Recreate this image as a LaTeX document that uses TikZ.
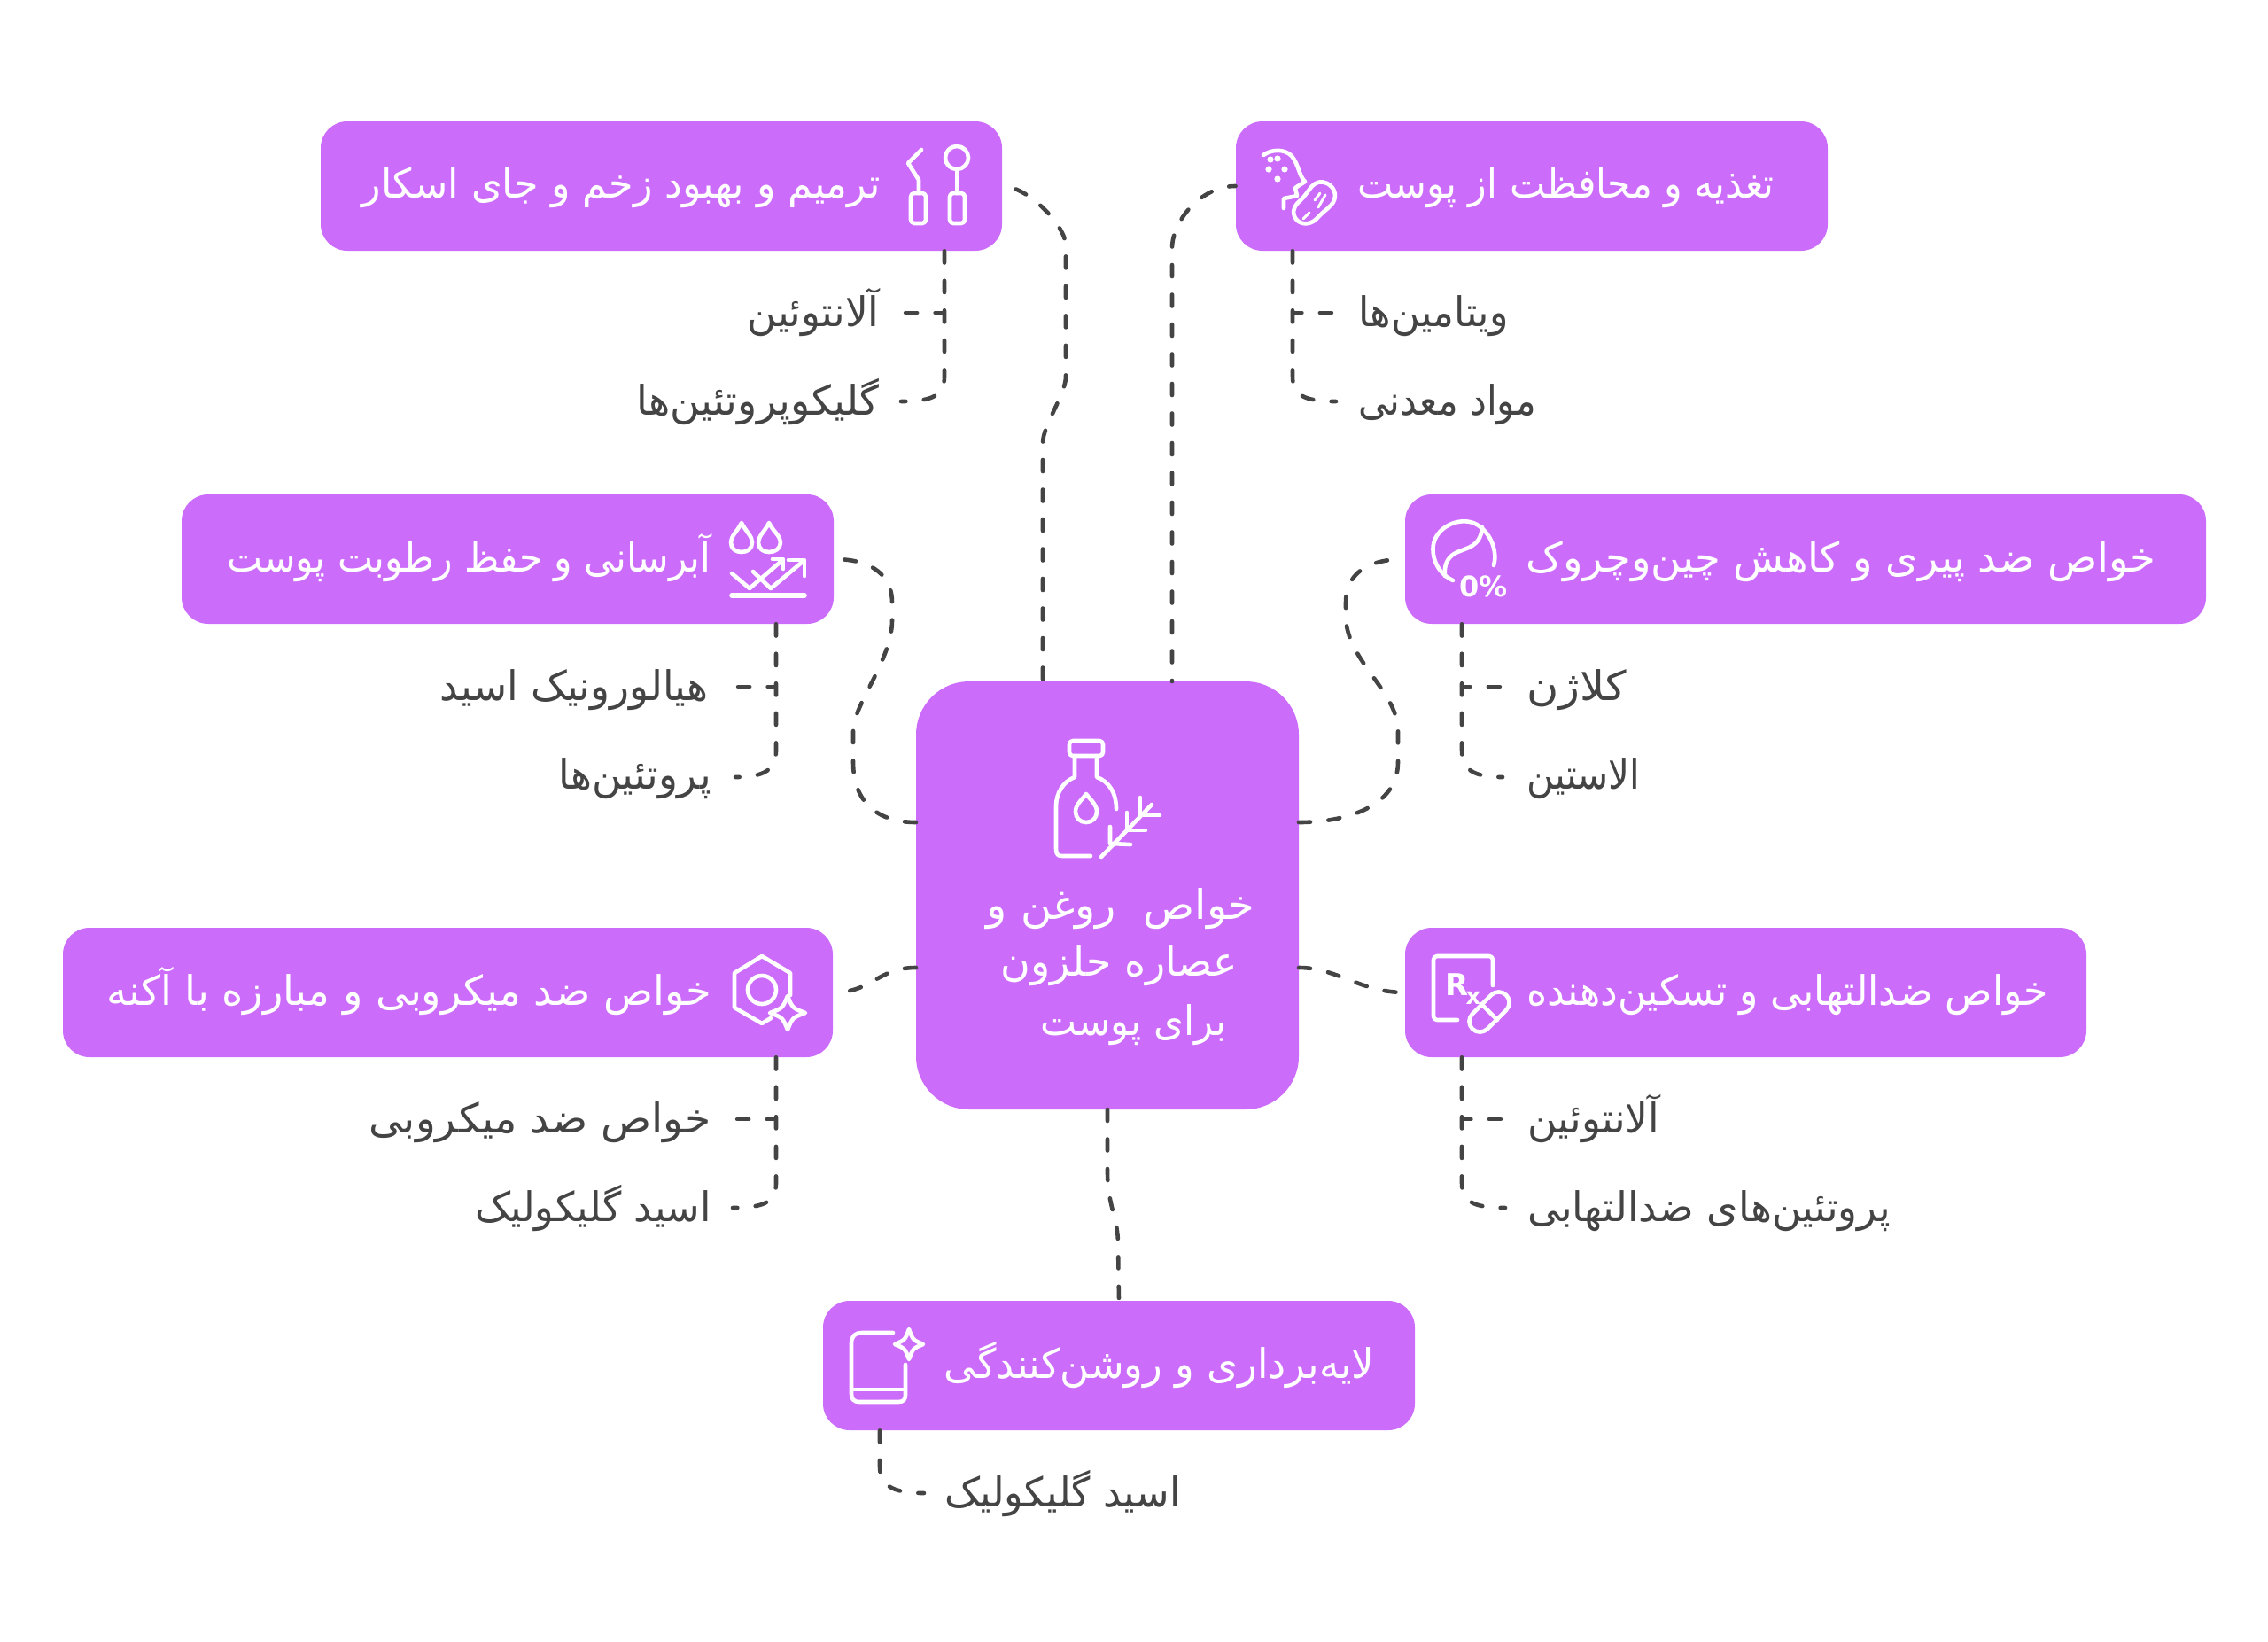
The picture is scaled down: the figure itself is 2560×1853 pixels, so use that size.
\documentclass[tikz,border=0pt]{standalone}
\usepackage{graphicx}
\usepackage{fontspec}
\setmainfont{DejaVu Sans}
\newfontfamily\arabicfont[Script=Arabic]{DejaVu Sans}
\newfontfamily\iconfont{DejaVu Sans}
\TeXXeTstate=1
\definecolor{boxpurple}{HTML}{CC6CFB}
\definecolor{inkgrey}{HTML}{444444}
\newcommand{\fa}[2]{\resizebox{#1pt}{\height}{\arabicfont\fontsize{23}{27}\selectfont #2}}
\tikzset{
  mainbox/.style={draw=none,fill=boxpurple,rounded corners=15pt,inner sep=0pt},
  centrebox/.style={draw=none,fill=boxpurple,rounded corners=30pt,inner sep=0pt},
  headtext/.style={inner sep=0pt,text=white},
  subtext/.style={inner sep=0pt,text=inkgrey},
  conn/.style={draw=inkgrey,line width=2.3pt,line cap=round,dash pattern=on 6.5pt off 10.25pt},
  ico/.style={draw=white,line width=2.3pt,line cap=round,line join=round},
  icofill/.style={fill=white,draw=none}
}
\newcommand{\fourstar}[4]{%
  \draw[ico] (#1,#2-#4) .. controls (#1+#3*0.28,#2-#4*0.28) .. (#1+#3,#2) .. controls (#1+#3*0.28,#2+#4*0.28) .. (#1,#2+#4) .. controls (#1-#3*0.28,#2+#4*0.28) .. (#1-#3,#2) .. controls (#1-#3*0.28,#2-#4*0.28) .. cycle;}
\begin{document}
\begin{tikzpicture}[x=0.5pt,y=-0.5pt]
\useasboundingbox (0,0) rectangle (2560,1853);
\fill[white] (0,0) rectangle (2560,1853);

\node[centrebox,minimum width=216pt,minimum height=241.5pt] (c) at (1250,1010.5) {};
\node[mainbox,minimum width=384.5pt,minimum height=73pt] (b1) at (746.5,210) {};
\node[mainbox,minimum width=334pt,minimum height=73pt] (b2) at (1729,210) {};
\node[mainbox,minimum width=368pt,minimum height=73pt] (b3) at (573,631) {};
\node[mainbox,minimum width=452pt,minimum height=73pt] (b4) at (2038,631) {};
\node[mainbox,minimum width=434.5pt,minimum height=73pt] (b5) at (505.5,1120) {};
\node[mainbox,minimum width=384.5pt,minimum height=73pt] (b6) at (1970.5,1120) {};
\node[mainbox,minimum width=334pt,minimum height=73pt] (b7) at (1263,1541) {};

% centre text
\node[headtext,anchor=base east] (ct1) at (1417,1037) {\fa{151.5}{\beginR خواص\ \ روغن و\endR}};
\node[headtext,anchor=base east] (ct2) at (1397,1101) {\fa{133.5}{\beginR عصاره حلزون\endR}};
\node[headtext,anchor=base east] (ct3) at (1385,1168) {\fa{105}{\beginR برای پوست\endR}};

% heading text
\node[headtext,anchor=base east] (t1) at (994,223) {\fa{292.5}{\beginR ترمیم و بهبود زخم و جای اسکار\endR}};
\node[headtext,anchor=base east] (t2) at (2003,223) {\fa{235}{\beginR تغذیه و محافظت از پوست\endR}};
\node[headtext,anchor=base east] (t3) at (803,645) {\fa{273}{\beginR آبرسانی و حفظ رطوبت پوست\endR}};
\node[headtext,anchor=base east] (t4) at (2434,645) {\fa{355.5}{\beginR خواص ضد پیری و کاهش چین^^^^200cوچروک\endR}};
\node[headtext,anchor=base east] (t5) at (803,1134) {\fa{341}{\beginR خواص ضد میکروبی و مبارزه با آکنه\endR}};
\node[headtext,anchor=base east] (t6) at (2312,1134) {\fa{294}{\beginR خواص ضدالتهابی و تسکین^^^^200cدهنده\endR}};
\node[headtext,anchor=base east] (t7) at (1552,1555) {\fa{243}{\beginR لایه^^^^200cبرداری و روشن^^^^200cکنندگی\endR}};

% sub labels
\node[subtext,anchor=base east] (l11) at (993,368) {\fa{74.5}{\beginR آلانتوئین\endR}};
\node[subtext,anchor=base east] (l12) at (993,468) {\fa{137}{\beginR گلیکوپروتئین^^^^200cها\endR}};
\node[subtext,anchor=base west] (l21) at (1533,368) {\fa{84.5}{\beginR ویتامین^^^^200cها\endR}};
\node[subtext,anchor=base west] (l22) at (1533,468) {\fa{100.5}{\beginR مواد معدنی\endR}};
\node[subtext,anchor=base east] (l31) at (800,790) {\fa{151.5}{\beginR هیالورونیک اسید\endR}};
\node[subtext,anchor=base east] (l32) at (803,890) {\fa{86}{\beginR پروتئین^^^^200cها\endR}};
\node[subtext,anchor=base west] (l41) at (1723,790) {\fa{56.5}{\beginR کلاژن\endR}};
\node[subtext,anchor=base west] (l42) at (1723,890) {\fa{64}{\beginR الاستین\endR}};
\node[subtext,anchor=base east] (l51) at (803,1278) {\fa{193}{\beginR خواص ضد میکروبی\endR}};
\node[subtext,anchor=base east] (l52) at (803,1378) {\fa{133}{\beginR اسید گلیکولیک\endR}};
\node[subtext,anchor=base west] (l61) at (1724,1278) {\fa{74.5}{\beginR آلانتوئین\endR}};
\node[subtext,anchor=base west] (l62) at (1724,1378) {\fa{205}{\beginR پروتئین^^^^200cهای ضدالتهابی\endR}};
\node[subtext,anchor=base west] (l71) at (1066,1700) {\fa{133}{\beginR اسید گلیکولیک\endR}};

% named points
\coordinate (p1) at (1177,769);
\coordinate (p2) at (1323,769);
\coordinate (p3) at (1034,928);
\coordinate (p4) at (1466,928);
\coordinate (p5) at (1034,1092);
\coordinate (p6) at (1466,1092);
\coordinate (p7) at (1250,1252);
\coordinate (j1) at (1066,353);
\coordinate (e11) at (1018,353);
\coordinate (e12) at (1017,453);
\coordinate (j2) at (1459,353);
\coordinate (e21) at (1508,353);
\coordinate (e22) at (1508,453);
\coordinate (j3) at (876,775);
\coordinate (e31) at (828,775);
\coordinate (e32) at (830,877);
\coordinate (j4) at (1650,775);
\coordinate (e41) at (1701,775);
\coordinate (e42) at (1696,877);
\coordinate (j5) at (876,1263);
\coordinate (e51) at (828,1263);
\coordinate (e52) at (827,1363);
\coordinate (j6) at (1650,1263);
\coordinate (e61) at (1701,1263);
\coordinate (e62) at (1699,1363);
\coordinate (j7) at (993,1655);
\coordinate (e72) at (1043,1685);

% main connectors
\draw[conn,dash phase=15.5pt] (p1) -- (1177,500) .. controls (1177,480) and (1203,445) .. (1203,425) -- (1203,277) .. controls (1203,255) and (1160,210) .. (b1.east);
\draw[conn,dash phase=6pt] (p2) -- (1323,280) .. controls (1323,250) and (1355,210) .. (b2.west);
\draw[conn] (p3) .. controls (990,928) and (963,905) .. (963,860) -- (963,825) .. controls (963,795) and (1007,745) .. (1007,700) -- (1007,680) .. controls (1007,650) and (985,631) .. (b3.east);
\draw[conn] (p4) .. controls (1520,928) and (1578,910) .. (1578,860) -- (1578,825) .. controls (1578,780) and (1519,745) .. (1519,695) -- (1519,680) .. controls (1519,650) and (1540,631) .. (b4.west);
\draw[conn] (p5) .. controls (990,1092) and (985,1120) .. (b5.east);
\draw[conn] (p6) .. controls (1510,1092) and (1535,1120) .. (b6.west);
\draw[conn] (p7) -- (1250,1322) .. controls (1250,1360) and (1262,1375) .. (1262,1404) -- (b7.north);

% sub connectors
\draw[conn] (j1 |- b1.south) -- (j1) -- (e11);
\draw[conn] (j1 |- b1.south) -- (1066,425) .. controls (1066,445) and (1055,453) .. (e12);
\draw[conn] (j2 |- b2.south) -- (j2) -- (e21);
\draw[conn] (j2 |- b2.south) -- (1459,425) .. controls (1459,445) and (1470,453) .. (e22);
\draw[conn] (j3 |- b3.south) -- (j3) -- (e31);
\draw[conn] (j3 |- b3.south) -- (876,847) .. controls (876,867) and (865,877) .. (e32);
\draw[conn] (j4 |- b4.south) -- (j4) -- (e41);
\draw[conn] (j4 |- b4.south) -- (1650,847) .. controls (1650,867) and (1661,877) .. (e42);
\draw[conn] (j5 |- b5.south) -- (j5) -- (e51);
\draw[conn] (j5 |- b5.south) -- (876,1335) .. controls (876,1355) and (865,1363) .. (e52);
\draw[conn] (j6 |- b6.south) -- (j6) -- (e61);
\draw[conn] (j6 |- b6.south) -- (1650,1335) .. controls (1650,1355) and (1661,1363) .. (e62);
\draw[conn] (j7 |- b7.south) -- (j7) .. controls (993,1675) and (1005,1685) .. (e72);

% icon: bottle and sprig
\draw[ico,rounded corners=2pt] (1207,836) rectangle (1245,853);
\draw[ico] (1213,853) -- (1213,877) .. controls (1200,882) and (1192,895) .. (1192,910) -- (1192,958) .. controls (1192,964) and (1194,966) .. (1199,966) -- (1231,966);
\draw[ico] (1238,853) -- (1238,877) .. controls (1252,882) and (1260,895) .. (1260,913);
\draw[ico] (1226,896) .. controls (1232,904) and (1238,908) .. (1238,916) .. controls (1238,923) and (1233,928) .. (1226,928) .. controls (1219,928) and (1214,923) .. (1214,916) .. controls (1214,908) and (1220,904) .. cycle;
\draw[ico] (1243,967) -- (1300,908);
\draw[ico] (1253,933) -- (1253,952) -- (1276,953);
\draw[ico] (1272,917) -- (1272,937) -- (1293,937);
\draw[ico] (1287,900) -- (1287,920) -- (1309,920);

% icon 1: instruments
\draw[ico] (1040,169) -- (1025,184) -- (1037,203) -- (1037,218);
\draw[ico,rounded corners=2pt] (1028,218) rectangle (1045,252);
\draw[ico] (1080,178) circle (13);
\draw[ico] (1080,192) -- (1080,218);
\draw[ico,rounded corners=2pt] (1072,218) rectangle (1089,252);

% icon 2: nut
\draw[ico] (1426,175) .. controls (1436,168) and (1450,168) .. (1458,176) .. controls (1466,186) and (1466,198) .. (1473,205) -- (1462,212) -- (1464,221) -- (1449,224) -- (1449,235);
\foreach \dx/\dy in {1442/179,1432/191,1450/191,1442/202,1434/180}{\fill[white] (\dx,\dy) circle (3.6);}
\draw[ico] (1498,207) .. controls (1508,212) and (1510,224) .. (1502,232) .. controls (1496,238) and (1492,240) .. (1486,247) .. controls (1478,255) and (1465,254) .. (1461,244) .. controls (1458,236) and (1463,230) .. (1468,226) .. controls (1474,220) and (1476,216) .. (1481,210) .. controls (1486,205) and (1492,204) .. cycle;
\draw[ico,line width=1.5pt] (1478,240) -- (1471,247);
\draw[ico,line width=1.5pt] (1490,218) -- (1484,226);
\draw[ico,line width=1.5pt] (1496,220) -- (1488,234);

% icon 3: drops and arrows
\draw[ico] (837,590) .. controls (842,600) and (849,605) .. (849,612) .. controls (849,619) and (844,623) .. (837,623) .. controls (830,623) and (825,619) .. (825,612) .. controls (825,605) and (832,600) .. cycle;
\draw[ico] (868,590) .. controls (873,600) and (881,605) .. (881,612) .. controls (881,619) and (875,623) .. (868,623) .. controls (861,623) and (856,619) .. (856,612) .. controls (856,605) and (863,600) .. cycle;
\draw[ico] (826,647) -- (846,664) -- (881,634);
\draw[ico] (872,631) -- (884,631) -- (884,642);
\draw[ico] (850,645) -- (870,664) -- (907,633);
\draw[ico] (890,632) -- (908,632) -- (908,650);
\draw[ico,line width=2.8pt] (826,672) -- (908,672);

% icon 4: bean and percent
\draw[ico] (1640,655) .. controls (1618,645) and (1614,620) .. (1620,608) .. controls (1628,590) and (1655,582) .. (1670,594) .. controls (1685,605) and (1690,625) .. (1686,638);
\draw[ico] (1673,595) .. controls (1671,618) and (1655,618) .. (1643,624) .. controls (1632,630) and (1630,640) .. (1631,650);
\node[inner sep=0pt,text=white,anchor=base west] (pct) at (1647,673) {\iconfont\bfseries\fontsize{16}{18}\selectfont 0\%};

% icon 5: hexagon and star
\draw[ico] (892,1123) -- (892,1098) -- (860,1079) -- (829,1098) -- (829,1137) -- (860,1155) -- (870,1149);
\draw[ico] (860,1117) circle (16);
\fourstar{889}{1143}{20}{19}

% icon 6: Rx and pill
\draw[ico,rounded corners=2pt] (1685,1112) -- (1685,1079) -- (1618,1079) -- (1618,1151) -- (1645,1151);
\node[inner sep=0pt,text=white,anchor=base west] (rx) at (1631,1123) {\iconfont\bfseries\fontsize{17}{19}\selectfont R\hspace{-1.5pt}\raisebox{-5pt}{\fontsize{13}{15}\selectfont x}};
\draw[ico,rotate around={45:(1681,1142)},rounded corners=6pt] (1654,1130) rectangle (1708,1154);
\draw[ico] (1672,1133) -- (1690,1151);

% icon 7: book and star
\draw[ico] (1008,1504) -- (973,1504) .. controls (965,1504) and (961,1508) .. (961,1516) -- (961,1573) .. controls (961,1579) and (964,1582) .. (970,1582) -- (1014,1582) .. controls (1020,1582) and (1022,1579) .. (1022,1574) -- (1022,1540);
\draw[ico] (962,1568) -- (1022,1568);
\fourstar{1026}{1517}{16}{17}
\end{tikzpicture}
\end{document}
